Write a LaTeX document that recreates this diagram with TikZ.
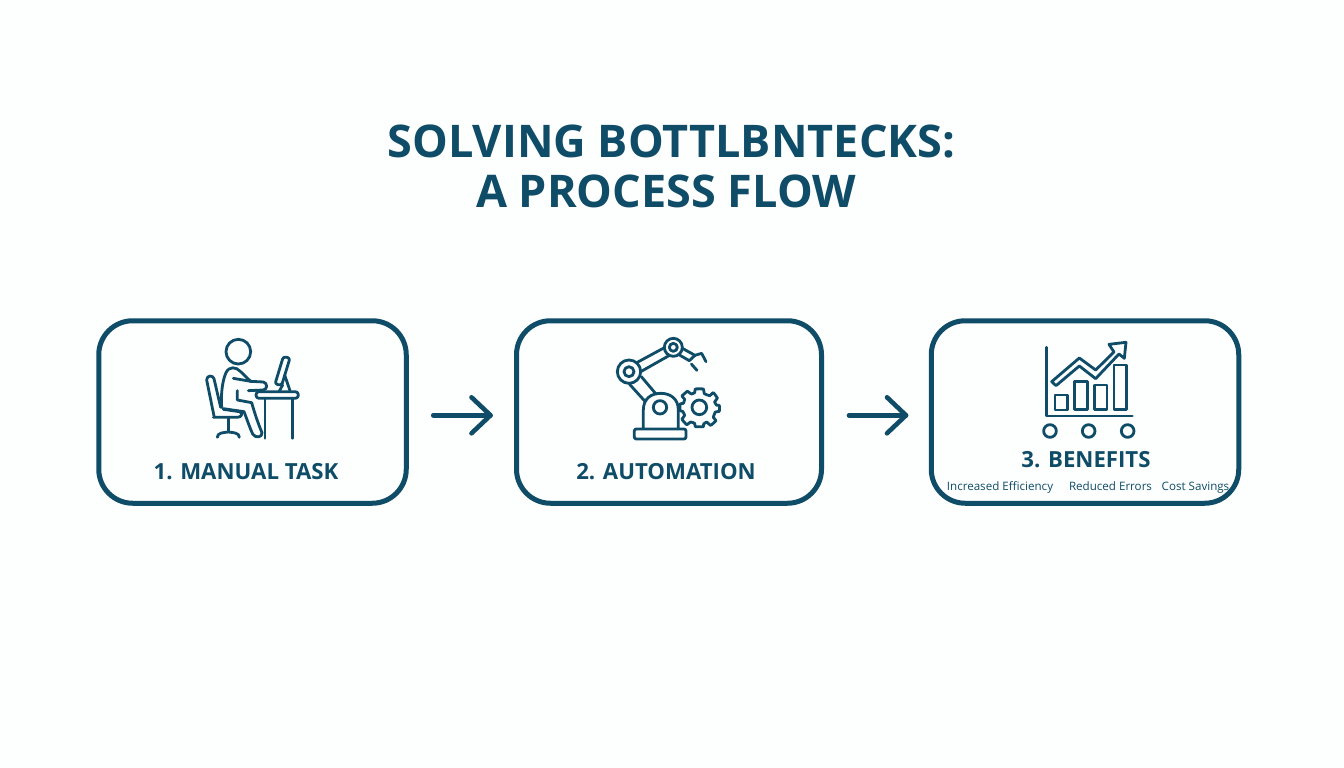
\documentclass[tikz,border=0pt]{standalone}
\usepackage{fontspec}
\setmainfont{Open Sans}
\usetikzlibrary{calc}
\definecolor{ink}{HTML}{0F4C68}
\definecolor{paper}{HTML}{FDFEFE}
\tikzset{
  stepbox/.style={draw=ink,line width=5pt,rounded corners=34pt,minimum height=182.5pt,outer sep=0pt,inner sep=0pt},
  flowarrow/.style={draw=ink,line width=4.6pt,line cap=round,line join=round},
  icon/.style={draw=ink,line width=2.8pt,line cap=round,line join=round},
  titletext/.style={text=ink,font=\fontsize{45}{50}\selectfont\bfseries,align=center,inner sep=0pt,anchor=base},
  steplabel/.style={text=ink,font=\fontsize{22.2}{24}\selectfont\bfseries,inner sep=0pt,anchor=base},
  smalllabel/.style={text=ink,font=\fontsize{11.6}{14}\selectfont,inner sep=0pt,anchor=base}
}
\begin{document}
\begin{tikzpicture}[x=1pt,y=-1pt]
\useasboundingbox (0,0) rectangle (1344,768);
\fill[paper] (0,0) rectangle (1344,768);
% title
\node[titletext] (title1) at (671.5,157) {SOLVING BOTTLBNTECKS:};
\node[titletext] (title2) at (666,207) {A PROCESS FLOW};
% boxes
\node[stepbox,minimum width=307.5pt] (box1) at (252.5,412) {};
\node[stepbox,minimum width=305pt] (box2) at (669,412) {};
\node[stepbox,minimum width=307.5pt] (box3) at (1085,412) {};
% arrows
\coordinate (tip1) at (490.5,415.3);
\coordinate (tip2) at (906,415.3);
\draw[flowarrow] ([yshift=-3.3pt]box1.east) ++(27,0) -- (tip1);
\draw[flowarrow] ($(tip1)+(-19,-18)$) -- (tip1) -- ($(tip1)+(-19,18)$);
\draw[flowarrow] ([yshift=-3.3pt]box2.east) ++(27.5,0) -- (tip2);
\draw[flowarrow] ($(tip2)+(-19,-18)$) -- (tip2) -- ($(tip2)+(-19,18)$);
% labels
\node[steplabel] (lab1) at (246,479) {1. MANUAL TASK};
\node[steplabel] (lab2) at (666,479) {2. AUTOMATION};
\node[steplabel] (lab3) at (1086,467) {3. BENEFITS};
\node[smalllabel] (ben1) at (1000,490.5) {Increased Efficiency};
\node[smalllabel] (ben2) at (1110.5,490.5) {Reduced Errors};
\node[smalllabel] (ben3) at (1195.5,490.5) {Cost Savings};
% person icon
\begin{scope}[shift={(180,330)},x=0.3333pt,y=-0.3333pt]
\draw[icon] (175,65) circle (37);
\draw[icon] (125,232) .. controls (122,190) and (128,150) .. (138,128) .. controls (148,108) and (168,110) .. (182,125) -- (212,154) -- (250,156) .. controls (262,158) and (264,178) .. (250,180) -- (205,182);
\draw[icon] (160,145) -- (212,154);
\draw[icon] (172,182) -- (172,210) -- (215,218) .. controls (224,250) and (236,285) .. (246,308) .. controls (248,322) and (226,326) .. (218,312) .. controls (208,290) and (200,265) .. (192,245) -- (130,236);
\draw[icon] (100,262) -- (172,262) .. controls (186,262) and (190,248) .. (178,245) -- (130,238);
\draw[icon] (102,258) -- (80,150) .. controls (80,136) and (98,134) .. (102,146) -- (122,232);
\draw[icon] (145,265) -- (145,304);
\draw[icon] (112,322) .. controls (112,308) and (130,308) .. (145,306) .. controls (160,308) and (178,308) .. (178,322);
\draw[icon,rounded corners=3pt] (228,185) rectangle (355,205);
\draw[icon] (255,205) -- (255,325);
\draw[icon] (338,205) -- (338,325);
\draw[icon,rounded corners=2.5pt] (285,162) -- (310,80) -- (330,84) -- (305,166) -- cycle;
\draw[icon] (314,135) -- (330,182);
\draw[icon] (308,165) -- (298,183);
\end{scope}
% robot icon
\begin{scope}[shift={(600,330)},x=0.3333pt,y=-0.3333pt]
\draw[icon,rounded corners=2pt] (103,297) rectangle (258,327);
\draw[icon] (130,295) -- (130,240) .. controls (130,205) and (155,190) .. (182,190) .. controls (210,190) and (235,205) .. (235,240) -- (235,295);
\draw[icon] (180,232) circle (20);
\draw[icon] (88,162) -- (135,214);
\draw[icon] (124,140) -- (168,192);
\draw[icon] (87,125) circle (35);
\draw[icon] (87,125) circle (15);
\draw[icon] (110,98) -- (195,52);
\draw[icon] (124,124) -- (205,78);
\draw[icon] (220,52) circle (27);
\draw[icon] (220,52) circle (12);
\draw[icon] (247,55) -- (285,76) -- (305,70) -- (318,95);
\draw[icon] (240,76) -- (268,92) -- (285,76);
\draw[icon] (274,102) -- (291,121);
\draw[icon] plot[smooth cycle,tension=0.18] coordinates {
 (286,177) (310,177) (313,191) (329,197) (340,188) (352,204) (344,216) (350,226)
 (358,226) (358,244) (346,246) (340,262) (348,272) (332,286) (320,276) (311,282)
 (310,290) (286,290) (284,280) (272,276) (260,284) (246,268) (254,256) (248,244)
 (240,242) (240,222) (250,220) (254,208) (246,198) (262,184) (274,192) (284,188)};
\draw[icon] (298,232) circle (22);
\end{scope}
% chart icon
\begin{scope}[shift={(930,330)},x=0.3333pt,y=-0.3333pt]
\draw[icon] (350,52) -- (350,258) -- (607,258);
\draw[icon] (375,195) rectangle (413,240);
\draw[icon] (434,155) rectangle (472,238);
\draw[icon] (493,165) rectangle (531,238);
\draw[icon] (552,105) rectangle (590,238);
\draw[icon] (360,303) circle (19);
\draw[icon] (476,303) circle (19);
\draw[icon] (593,303) circle (19);
\draw[icon] (365,155) -- (448,84) -- (497,120) -- (552,66) -- (537,43) -- (588,37) -- (583,85) -- (567,72) -- (497,146) -- (448,108) -- (378,167) -- cycle;
\end{scope}
\end{tikzpicture}
\end{document}
